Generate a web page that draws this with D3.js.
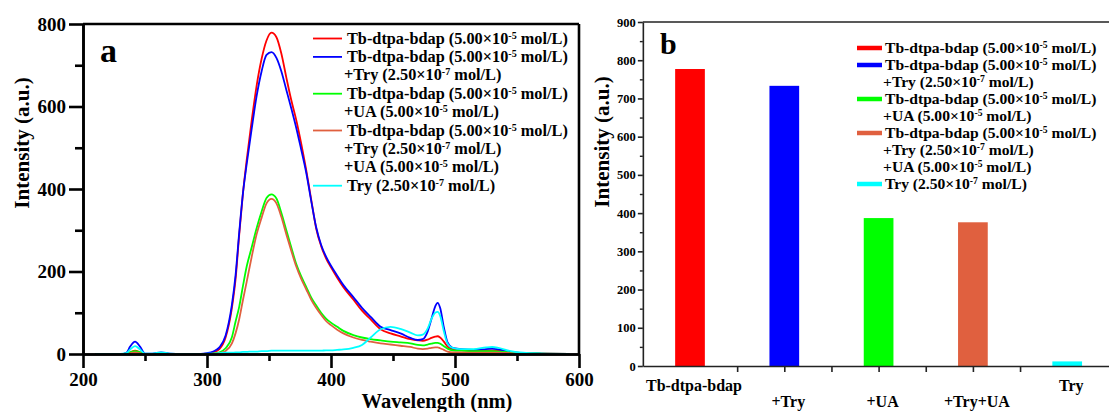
<!DOCTYPE html>
<html><head><meta charset="utf-8">
<script src="https://cdn.jsdelivr.net/npm/d3@7/dist/d3.min.js"></script>
<style>
html,body{margin:0;padding:0;background:#fff;}
svg{display:block;}
text{font-family:"Liberation Serif","Times New Roman",serif;font-weight:bold;fill:#000;}
</style></head>
<body><svg id="chart" width="1109" height="412"></svg>
<script>
// ---------- DATA ----------
const wavelengths = [210,230,235,238,242,246,250,256,263,270,280,295,300,305,310,315,320,323,326,329,332,336,340,344,348,352,356,360,364,368,372,376,380,384,388,392,396,400,405,410,418,425,432,440,448,456,464,470,474,478,481,484,486,488,491,494,498,505,515,525,530,535,545,555,570,592];
const tbValues      = [0,0,1,4,8,4,0,0,2,0,0,0,1,4,12,40,110,180,290,390,470,565,650,715,760,779,768,728,670,615,567,510,446,375,305,262,232,210,185,162,132,105,84,60,50,43,36,33,32,35,39,42,43,40,30,18,12,10,8,9,9,8,4,2,1,0];
const tbTryValues   = [0,0,3,18,30,18,1,1,4,1,0,0,2,6,16,45,118,190,295,390,460,545,625,685,725,732,718,685,640,595,548,495,440,372,308,265,236,214,190,167,138,112,90,66,58,50,39,34,36,55,85,115,124,112,65,28,15,12,10,12,13,11,5,2,1,0];
const tbUAValues    = [0,0,1,4,7,4,0,0,1,0,0,0,0,1,4,14,40,78,115,165,212,258,305,345,378,387,377,342,300,258,218,188,163,137,118,100,86,76,66,56,46,40,36,33,30,28,26,22,21,23,25,27,27,25,19,13,9,8,7,7,7,6,4,2,1,0];
const tbTryUAValues = [0,0,0,2,4,2,0,0,0,0,0,0,0,0,2,7,25,50,85,131,175,235,290,330,365,376,365,332,290,250,212,182,157,132,112,95,80,70,59,50,40,34,30,26,23,20,17,13,12,13,15,16,16,14,10,6,4,4,3,3,3,3,2,1,0,0];
const tryValues     = [0,0,2,11,19,11,1,1,4,1,0,0,1,1,2,3,3,4,4,5,5,6,6,7,7,8,8,8,8,8,8,8,8,8,8,8,9,9,10,11,15,22,40,60,66,61,52,45,47,62,85,100,102,93,55,25,15,12,12,16,17,15,7,3,1,0];

const seriesColors = ["#ff0000","#0000ff","#00ff00","#e0603f","#00ffff"];
const legendLabels = [
  ["Tb-dtpa-bdap (5.00×10^{-5} mol/L)"],
  ["Tb-dtpa-bdap (5.00×10^{-5} mol/L)","+Try (2.50×10^{-7} mol/L)"],
  ["Tb-dtpa-bdap (5.00×10^{-5} mol/L)","+UA (5.00×10^{-5} mol/L)"],
  ["Tb-dtpa-bdap (5.00×10^{-5} mol/L)","+Try (2.50×10^{-7} mol/L)","+UA (5.00×10^{-5} mol/L)"],
  ["Try (2.50×10^{-7} mol/L)"]
];
const xTicksA = [200,300,400,500,600];
const xMinorA = [250,350,450,550];
const yTicksA = [0,200,400,600,800];
const yMinorA = [100,300,500,700];

const barCategories = ["Tb-dtpa-bdap","+Try","+UA","+Try+UA","Try"];
const barPositions = [1,2,3,4,5];
const barValues = [777,733,387,376,12];
const yTicksB = [0,100,200,300,400,500,600,700,800,900];
const yMinorB = [50,150,250,350,450,550,650,750,850];
const xTicksB = [1.5,2,2.5,3,3.5,4,4.5];

// ---------- HELPERS ----------
const svg = d3.select("#chart");
function richText(sel, str, fs){
  const parts = str.split(/(\^\{[^}]*\})/).filter(p=>p.length);
  let raised = false;
  parts.forEach(p=>{
    if (p.startsWith("^{")) {
      sel.append("tspan").attr("dy", -fs*0.3).attr("font-size", fs*0.62).text(p.slice(2,-1));
      raised = true;
    } else {
      sel.append("tspan").attr("dy", raised ? fs*0.3 : 0).attr("font-size", fs).text(p);
      raised = false;
    }
  });
}

// ---------- PANEL A ----------
const xA = d3.scaleLinear([200,600],[83,579]);
const yA = d3.scaleLinear([0,800],[354,24]);
const gA = svg.append("g");

const series = [tbValues, tbTryValues, tbUAValues, tbTryUAValues, tryValues];
const line = d3.line().x((d,i)=>xA(wavelengths[i])).y(d=>yA(d)).curve(d3.curveMonotoneX);
series.forEach((s,k)=>{
  gA.append("path").datum(s).attr("d", line).attr("fill","none")
    .attr("stroke", seriesColors[k]).attr("stroke-width",1.8);
});

// frame
gA.append("line").attr("x1",xA(200)).attr("x2",xA(600)).attr("y1",yA(800)).attr("y2",yA(800)).attr("stroke","#000").attr("stroke-width",2.6);
gA.append("line").attr("x1",xA(600)).attr("x2",xA(600)).attr("y1",yA(800)).attr("y2",yA(0)).attr("stroke","#000").attr("stroke-width",2.6);

function styleAxis(g, sw){
  g.selectAll(".domain").attr("stroke","#000").attr("stroke-width",sw);
  g.selectAll(".tick line").attr("stroke","#000").attr("stroke-width",sw);
}
const axXA = gA.append("g").attr("transform",`translate(0,${yA(0)})`)
  .call(d3.axisBottom(xA).tickValues(xTicksA).tickSize(14).tickSizeOuter(0).tickPadding(5).tickFormat(d3.format("d")));
styleAxis(axXA,2.6);
axXA.selectAll("text").attr("font-size",19).style("font-family",'"Liberation Serif",serif').style("font-weight","bold").attr("fill","#000");
const axXAm = gA.append("g").attr("transform",`translate(0,${yA(0)})`)
  .call(d3.axisBottom(xA).tickValues(xMinorA).tickSize(7).tickSizeOuter(0).tickFormat(""));
styleAxis(axXAm,2.6);

const axYA = gA.append("g").attr("transform",`translate(${xA(200)},0)`)
  .call(d3.axisLeft(yA).tickValues(yTicksA).tickSize(14).tickSizeOuter(0).tickPadding(3).tickFormat(d3.format("d")));
styleAxis(axYA,2.6);
axYA.selectAll("text").attr("font-size",19).style("font-family",'"Liberation Serif",serif').style("font-weight","bold").attr("fill","#000");
const axYAm = gA.append("g").attr("transform",`translate(${xA(200)},0)`)
  .call(d3.axisLeft(yA).tickValues(yMinorA).tickSize(8).tickSizeOuter(0).tickFormat(""));
styleAxis(axYAm,2.6);

gA.append("text").attr("x",437).attr("y",407.5).attr("text-anchor","middle").attr("font-size",20.5).text("Wavelength (nm)");
gA.append("text").attr("transform","translate(29,143) rotate(-90)").attr("text-anchor","middle").attr("font-size",21).text("Intensity (a.u.)");
gA.append("text").attr("x",100).attr("y",62).attr("font-size",34).text("a");

// legend A
let rowA = 0;
legendLabels.forEach((lines,k)=>{
  const yb = 43.5 + rowA*18.4;
  gA.append("line").attr("x1",313).attr("x2",342).attr("y1",yb-5).attr("y2",yb-5)
    .attr("stroke",seriesColors[k]).attr("stroke-width",1.8);
  lines.forEach((t,j)=>{
    const tx = gA.append("text").attr("x", j===0 ? 347 : 344).attr("y", 43.5 + (rowA+j)*18.4);
    richText(tx, t, 16.3);
  });
  rowA += lines.length;
});

// ---------- PANEL B ----------
const xB = d3.scaleLinear([0.5,5.5],[642.85,1114.35]);
const yB = d3.scaleLinear([0,900],[366,22]);
const gB = svg.append("g");
const barW = 29.7;
gB.selectAll("rect.bar").data(barValues).join("rect").attr("class","bar")
  .attr("x",(d,i)=>xB(barPositions[i])-barW/2).attr("width",barW)
  .attr("y",d=>yB(d)).attr("height",d=>yB(0)-yB(d))
  .attr("fill",(d,i)=>seriesColors[i]);

gB.append("line").attr("x1",xB(0.5)).attr("x2",1109).attr("y1",yB(900)).attr("y2",yB(900)).attr("stroke","#222").attr("stroke-width",1.6);

const axXB = gB.append("g").attr("transform",`translate(0,${yB(0)})`)
  .call(d3.axisBottom(xB).tickValues(xTicksB).tickSize(6).tickSizeOuter(0).tickFormat(""));
axXB.selectAll(".domain").attr("stroke","#222").attr("stroke-width",1.6);
axXB.selectAll(".tick line").attr("stroke","#222").attr("stroke-width",1.6);

const axYB = gB.append("g").attr("transform",`translate(${xB(0.5)},0)`)
  .call(d3.axisLeft(yB).tickValues(yTicksB).tickSize(5).tickSizeOuter(0).tickPadding(2).tickFormat(d3.format("d")));
axYB.selectAll(".domain").attr("stroke","#222").attr("stroke-width",1.6);
axYB.selectAll(".tick line").attr("stroke","#222").attr("stroke-width",1.6);
axYB.selectAll("text").attr("font-size",12.5).style("font-family",'"Liberation Serif",serif').style("font-weight","bold").attr("fill","#000");
const axYBm = gB.append("g").attr("transform",`translate(${xB(0.5)},0)`)
  .call(d3.axisLeft(yB).tickValues(yMinorB).tickSize(3).tickSizeOuter(0).tickFormat(""));
axYBm.selectAll(".domain").remove();
axYBm.selectAll(".tick line").attr("stroke","#222").attr("stroke-width",1.4);

barCategories.forEach((c,i)=>{
  const low = (i===1||i===2||i===3);
  gB.append("text").attr("x",xB(barPositions[i])+4).attr("y", low ? 406.5 : 391)
    .attr("text-anchor","middle").attr("font-size",16).text(c);
});

gB.append("text").attr("transform","translate(609,142) rotate(-90)").attr("text-anchor","middle").attr("font-size",21).text("Intensity (a.u.)");
gB.append("text").attr("x",660).attr("y",54).attr("font-size",30).text("b");

let rowB = 0;
legendLabels.forEach((lines,k)=>{
  const yb = 53 + rowB*17;
  gB.append("line").attr("x1",857).attr("x2",882).attr("y1",yb-5).attr("y2",yb-5)
    .attr("stroke",seriesColors[k]).attr("stroke-width",4.5);
  lines.forEach((t,j)=>{
    const tx = gB.append("text").attr("x", j===0 ? 885 : 883).attr("y", 53 + (rowB+j)*17);
    richText(tx, t, 15.6);
  });
  rowB += lines.length;
});
</script></body></html>
